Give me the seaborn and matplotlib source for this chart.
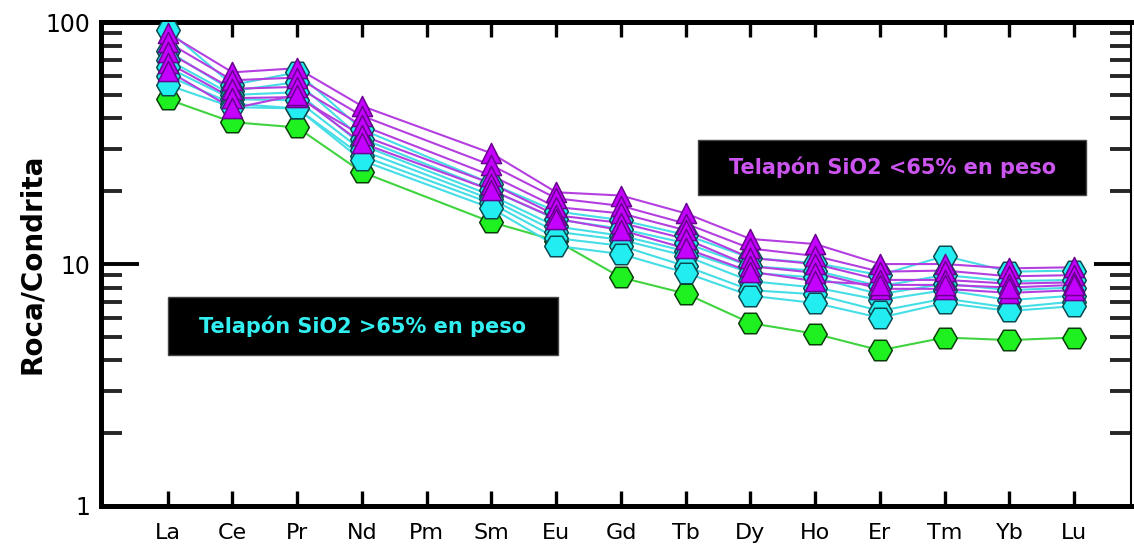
import numpy as np
import pandas as pd
import matplotlib
matplotlib.use("Agg")
import matplotlib.pyplot as plt
from matplotlib.ticker import FixedLocator, FixedFormatter, NullFormatter
from matplotlib.patches import Rectangle
import seaborn as sns

# Rare earth elements, chondrite-normalised (Pm not analysed)
elements = ["La", "Ce", "Pr", "Nd", "Pm", "Sm", "Eu", "Gd", "Tb",
            "Dy", "Ho", "Er", "Tm", "Yb", "Lu"]
nan = np.nan

# Telapón, SiO2 > 65 wt% (lowest sample shown in green)
green_1 = [48, 38.6, 36.7, 24, nan, 14.9, 12.5, 8.8, 7.55, 5.7, 5.15, 4.4, 4.97, 4.85, 4.97]

cyan_1 = [93, 55, 62, 36, nan, 21.5, 16.5, 15.2, 13.2, 10.6, 10.1, 9.0, 10.8, 9.3, 9.4]
cyan_2 = [76, 52, 56.5, 33, nan, 20.2, 15.3, 14.0, 12.2, 9.8, 9.4, 8.1, 9.0, 8.5, 8.6]
cyan_3 = [70, 50, 51.3, 31, nan, 19.2, 14.3, 13.1, 11.3, 9.2, 8.8, 7.5, 8.3, 7.8, 8.0]
cyan_4 = [65, 48, 47.5, 29.5, nan, 18.5, 13.6, 12.6, 10.8, 8.5, 8.0, 7.1, 7.8, 7.1, 7.4]
cyan_5 = [60, 46, 44, 28, nan, 17.8, 12.8, 11.9, 9.8, 7.8, 7.5, 6.4, 7.2, 6.6, 7.0]
cyan_6 = [55, 44.5, 44, 26.8, nan, 17.0, 11.9, 11.0, 9.2, 7.4, 6.9, 6.0, 6.9, 6.4, 6.7]

# Telapón, SiO2 < 65 wt%
magenta_1 = [90, 62, 64.5, 45, nan, 28.7, 19.8, 19.2, 16.2, 12.7, 12.1, 10.0, 10.0, 9.6, 9.7]
magenta_2 = [82.6, 57.5, 59, 41, nan, 25.6, 18.7, 17.4, 14.7, 11.6, 10.8, 9.3, 9.4, 8.9, 9.0]
magenta_3 = [75, 53, 54, 37.4, nan, 23.2, 17.2, 16.2, 13.8, 10.6, 10.0, 8.6, 8.6, 8.3, 8.4]
magenta_4 = [68, 48.5, 49, 34, nan, 21.5, 15.9, 14.8, 12.7, 9.8, 9.2, 7.9, 7.9, 7.6, 7.8]
magenta_5 = [63, 44, 50, 31.6, nan, 20.2, 15.4, 13.8, 11.6, 9.3, 8.5, 8.2, 8.2, 8.0, 8.2]

series = {
    "green_1": ("verde", green_1),
    "cyan_1": ("cian", cyan_1), "cyan_2": ("cian", cyan_2), "cyan_3": ("cian", cyan_3),
    "cyan_4": ("cian", cyan_4), "cyan_5": ("cian", cyan_5), "cyan_6": ("cian", cyan_6),
    "magenta_1": ("magenta", magenta_1), "magenta_2": ("magenta", magenta_2),
    "magenta_3": ("magenta", magenta_3), "magenta_4": ("magenta", magenta_4),
    "magenta_5": ("magenta", magenta_5),
}

rows = []
for name, (group, vals) in series.items():
    for i, (el, v) in enumerate(zip(elements, vals)):
        rows.append({"serie": name, "grupo": group, "elemento": el, "pos": i, "valor": v})
df = pd.DataFrame(rows).dropna(subset=["valor"])

line_colors = {"verde": "#3fd43f", "cian": "#45dde6", "magenta": "#b43fe0"}
fill_colors = {"verde": "#1ff01f", "cian": "#22eef2", "magenta": "#c400ff"}
edge_colors = {"verde": "#0b3d0b", "cian": "#0b4a4e", "magenta": "#6a0090"}
marker_shapes = {"verde": "H", "cian": "H", "magenta": "^"}
marker_sizes = {"verde": 290, "cian": 290, "magenta": 210}

sns.set_theme(style="white")
plt.rcParams["font.family"] = ["DejaVu Sans"]
plt.rcParams["text.color"] = "black"
plt.rcParams["axes.labelcolor"] = "black"

fig = plt.figure(figsize=(11.34, 5.53), dpi=100)
ax = fig.add_axes([0.089, 0.085, 0.908, 0.875])

# connecting lines (Pm gap is bridged, as the rows without a value are dropped)
sns.lineplot(data=df, x="pos", y="valor", hue="grupo", units="serie",
             estimator=None, sort=False, palette=line_colors, linewidth=1.5,
             legend=False, ax=ax, zorder=2)

# symbols: green, then cyan, then magenta on top
z = 3
for group in ["verde", "cian", "magenta"]:
    for name in [n for n, (g, _) in series.items() if g == group]:
        sub = df[df["serie"] == name]
        sns.scatterplot(data=sub, x="pos", y="valor", marker=marker_shapes[group],
                        s=marker_sizes[group], color=fill_colors[group],
                        edgecolor=edge_colors[group], linewidth=1.1,
                        legend=False, ax=ax, zorder=z)
        z += 0.01

ax.set_yscale("log")
ax.set_ylim(1, 100)
ax.set_xlim(-1.03, 14.87)

ax.xaxis.set_major_locator(FixedLocator(range(len(elements))))
ax.xaxis.set_major_formatter(FixedFormatter(elements))
ax.yaxis.set_major_locator(FixedLocator([1, 10, 100]))
ax.yaxis.set_major_formatter(FixedFormatter(["1", "10", "100"]))
minor = [m * d for d in (1, 10) for m in range(2, 10)]
ax.yaxis.set_minor_locator(FixedLocator(minor))
ax.yaxis.set_minor_formatter(NullFormatter())

ax.tick_params(axis="x", which="major", direction="in", length=11, width=2.4,
               top=True, bottom=True, labelsize=16, pad=12, colors="black")
ax.tick_params(axis="y", which="major", direction="in", length=27, width=2.8,
               left=True, right=True, labelsize=17, pad=8, colors="black")
ax.tick_params(axis="y", which="minor", direction="in", length=15, width=2.8,
               left=True, right=True)

for side, sp in ax.spines.items():
    sp.set_linewidth(3.6)
    sp.set_color("black")
ax.spines["right"].set_linewidth(1.5)

ax.set_xlabel("")
ax.set_ylabel("Roca/Condrita", fontsize=20, fontweight="bold", color="black")
ax.yaxis.set_label_coords(-0.053, 0.5)
ax.grid(False)

# group labels on black panels
boxes = [
    ((0.065, 0.312), 0.379, 0.120, "Telapón SiO2 >65% en peso", "#33eef0"),
    ((0.580, 0.643), 0.377, 0.113, "Telapón SiO2 <65% en peso", "#cc55f0"),
]
for (x0, y0), w, h, txt, col in boxes:
    ax.add_patch(Rectangle((x0, y0), w, h, transform=ax.transAxes,
                           facecolor="black", edgecolor="#444444", lw=1, zorder=5))
    ax.text(x0 + w / 2, y0 + h / 2, txt, transform=ax.transAxes, ha="center",
            va="center", color=col, fontsize=15, fontweight="bold", zorder=6)

fig.savefig("out.png", dpi=100)
